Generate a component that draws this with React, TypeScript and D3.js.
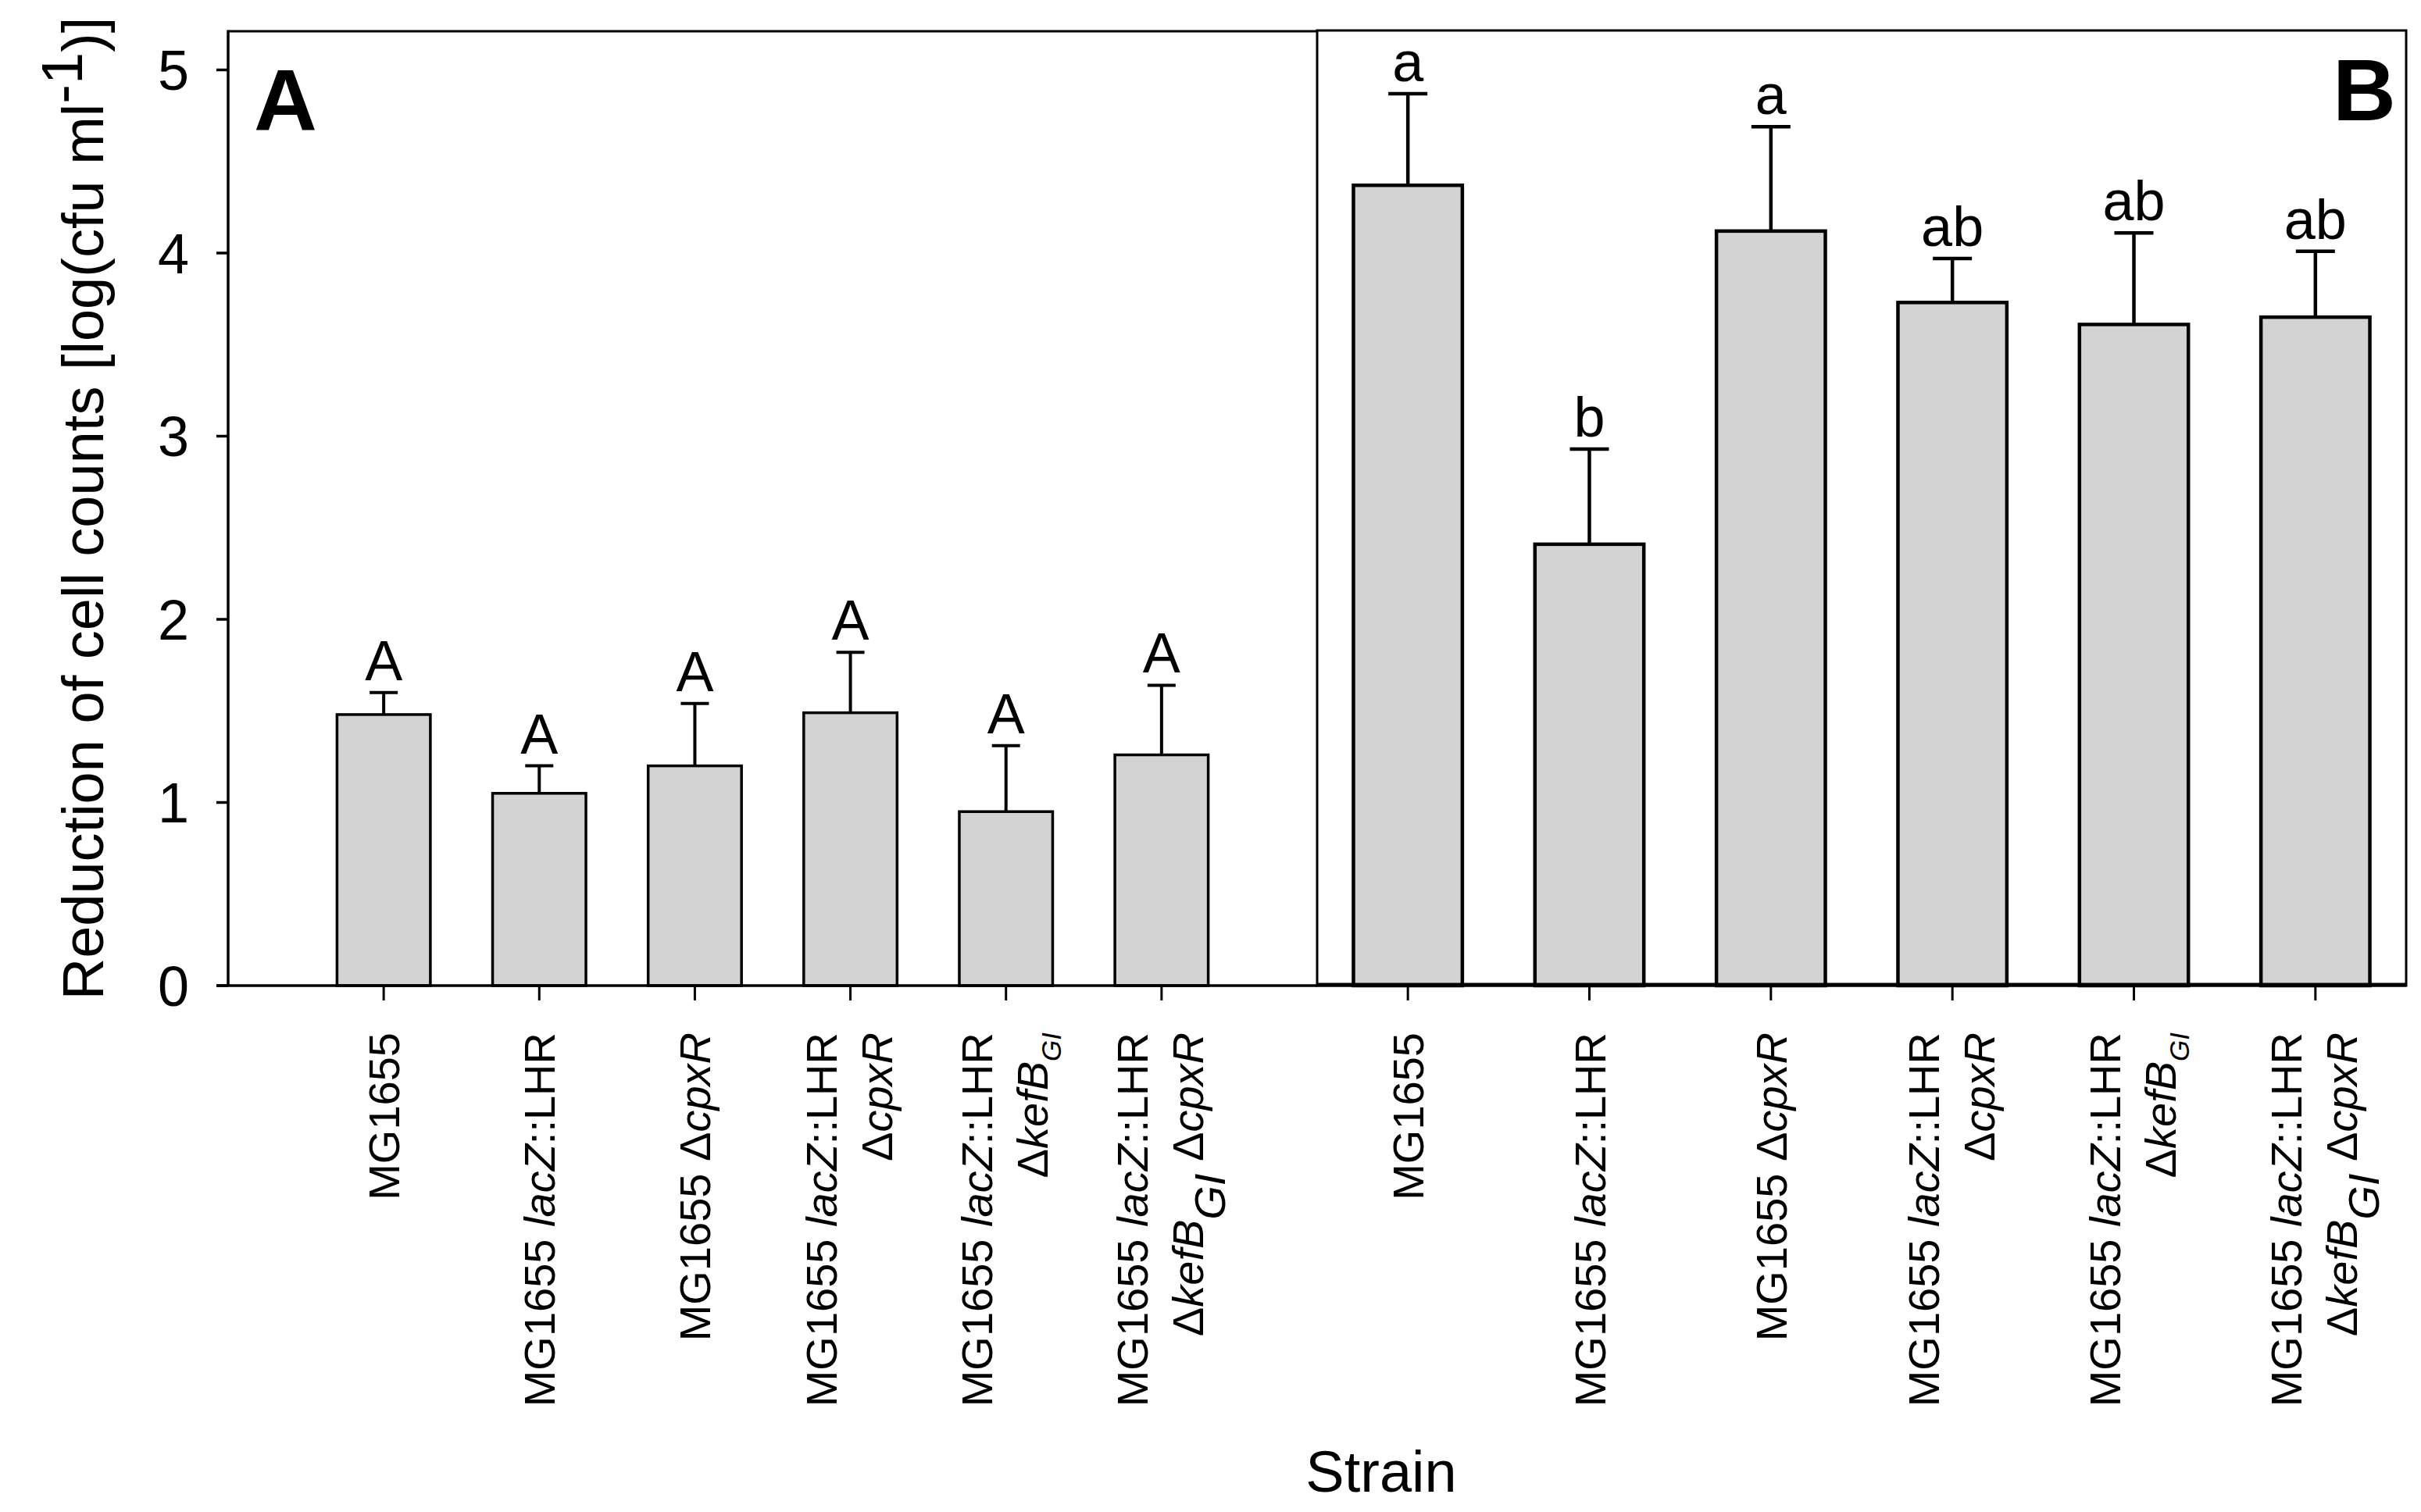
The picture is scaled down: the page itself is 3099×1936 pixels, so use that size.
import React from "react";
import * as d3 from "d3";

// ---------- data ----------
const strains = [
  "MG1655",
  "MG1655 lacZ::LHR",
  "MG1655 ΔcpxR",
  "MG1655 lacZ::LHR ΔcpxR",
  "MG1655 lacZ::LHR ΔkefBGI",
  "MG1655 lacZ::LHR ΔkefBGI ΔcpxR",
];

// label rich text: n = normal, i = italic, s = small italic subscript, S = full italic subscript
type Seg = [string, string];
const strainLabelLines: Seg[][][] = [
  [[["MG1655", "n"]]],
  [[["MG1655 ", "n"], ["lacZ", "i"], ["::LHR", "n"]]],
  [[["MG1655 Δ", "n"], ["cpxR", "i"]]],
  [[["MG1655 ", "n"], ["lacZ", "i"], ["::LHR", "n"]], [["Δ", "n"], ["cpxR", "i"]]],
  [[["MG1655 ", "n"], ["lacZ", "i"], ["::LHR", "n"]], [["Δ", "n"], ["kefB", "i"], ["GI", "s"]]],
  [
    [["MG1655 ", "n"], ["lacZ", "i"], ["::LHR", "n"]],
    [["Δ", "n"], ["kefB", "i"], ["GI", "S"], [" Δ", "n"], ["cpxR", "i"]],
  ],
];

const valuesA = [1.48, 1.05, 1.2, 1.49, 0.95, 1.26];
const errorsA = [0.12, 0.15, 0.34, 0.33, 0.36, 0.38];
const lettersA = ["A", "A", "A", "A", "A", "A"];

const valuesB = [4.37, 2.41, 4.12, 3.73, 3.61, 3.65];
const errorsB = [0.5, 0.52, 0.57, 0.24, 0.5, 0.36];
const lettersB = ["a", "b", "a", "ab", "ab", "ab"];

const yTicks = [0, 1, 2, 3, 4, 5];

// ---------- layout ----------
const W = 3099;
const H = 1936;
const FONT = "'Liberation Sans', Arial, Helvetica, sans-serif";
const axisLeft = 292;
const mid = 1686;
const right = 3080;
const top = 40;

const y = d3.scaleLinear().domain([0, 5]).range([1262, 89.5]);

const xA = d3.scalePoint<string>().domain(strains).range([axisLeft, mid]).padding(1);
const xB = d3.scalePoint<string>().domain(strains).range([mid, right]).padding(0.5);

function renderSegs(segs: Seg[]) {
  let shift = 0;
  return segs.map(([t, s], k) => {
    let target = 0;
    let fs: number | undefined = undefined;
    if (s === "s") {
      target = 17;
      fs = 35;
    } else if (s === "S") {
      target = 28;
    }
    const dy = target - shift;
    shift = target;
    return (
      <tspan key={k} dy={dy} fontStyle={s === "n" ? "normal" : "italic"} fontSize={fs}>
        {t}
      </tspan>
    );
  });
}

function XLabels({ scale }: { scale: d3.ScalePoint<string> }) {
  const lineGap = 71;
  return (
    <g fontFamily={FONT} fontSize={56} style={{ whiteSpace: "pre" }}>
      {strains.map((s, i) => {
        const cx = scale(s) as number;
        const lines = strainLabelLines[i];
        const n = lines.length;
        return lines.map((segs, k) => {
          const bx = cx + 20 - (n > 1 ? 37.5 : 0) + k * lineGap;
          return (
            <text
              key={`${i}-${k}`}
              transform={`translate(${bx},${1322}) rotate(-90)`}
              textAnchor="end"
            >
              {renderSegs(segs)}
            </text>
          );
        });
      })}
    </g>
  );
}

function Bars({
  scale,
  values,
  errors,
  letters,
  sw,
  capW,
  capSw,
}: {
  scale: d3.ScalePoint<string>;
  values: number[];
  errors: number[];
  letters: string[];
  sw: number;
  capW: number;
  capSw: number;
}) {
  const bw = scale.step() * 0.6;
  return (
    <g>
      {strains.map((s, i) => {
        const cx = scale(s) as number;
        const v = values[i];
        const e = errors[i];
        const yTop = y(v);
        const yCap = y(v + e);
        return (
          <g key={s}>
            <line x1={cx} x2={cx} y1={yTop} y2={yCap} stroke="#000" strokeWidth={capSw} />
            <line x1={cx - capW / 2} x2={cx + capW / 2} y1={yCap} y2={yCap} stroke="#000" strokeWidth={capSw} />
            <rect
              x={cx - bw / 2}
              y={yTop}
              width={bw}
              height={y(0) - yTop}
              fill="#d3d3d3"
              stroke="#000"
              strokeWidth={sw}
            />
            <text x={cx} y={yCap - 16} textAnchor="middle" fontFamily={FONT} fontSize={72}>
              {letters[i]}
            </text>
          </g>
        );
      })}
    </g>
  );
}

export default function App() {
  return (
    <svg
      width={W}
      height={H}
      viewBox={`0 0 ${W} ${H}`}
      style={{ position: "absolute", left: 0, top: 0, background: "#fff" }}
    >
      <rect x={0} y={0} width={W} height={H} fill="#fff" />

      {/* Panel A frame */}
      <line x1={axisLeft} x2={mid} y1={top} y2={top} stroke="#000" strokeWidth={3} />
      <line x1={axisLeft} x2={axisLeft} y1={top - 1.5} y2={y(0)} stroke="#000" strokeWidth={3.5} />

      {/* y ticks */}
      {yTicks.map((t) => (
        <g key={t}>
          <line x1={277} x2={axisLeft} y1={y(t)} y2={y(t)} stroke="#000" strokeWidth={3.5} />
          <text x={242} y={y(t)} dy="0.36em" textAnchor="end" fontFamily={FONT} fontSize={72}>
            {t}
          </text>
        </g>
      ))}

      {/* bars */}
      <Bars scale={xA} values={valuesA} errors={errorsA} letters={lettersA} sw={3.5} capW={36} capSw={4} />
      <Bars scale={xB} values={valuesB} errors={errorsB} letters={lettersB} sw={4.5} capW={50} capSw={4.5} />

      {/* bottom axis A */}
      <line x1={277} x2={mid} y1={y(0)} y2={y(0)} stroke="#000" strokeWidth={3.5} />
      {/* Panel B frame */}
      <rect x={mid} y={top - 1} width={right - mid} height={y(0) - top + 1} fill="none" stroke="#000" strokeWidth={3} />
      <line x1={mid} x2={right} y1={y(0) - 1} y2={y(0) - 1} stroke="#000" strokeWidth={5} />

      {/* x ticks */}
      {strains.map((s) => (
        <g key={s}>
          <line x1={xA(s)} x2={xA(s)} y1={y(0)} y2={1281} stroke="#000" strokeWidth={3} />
          <line x1={xB(s)} x2={xB(s)} y1={y(0)} y2={1281} stroke="#000" strokeWidth={3} />
        </g>
      ))}

      <XLabels scale={xA} />
      <XLabels scale={xB} />

      {/* panel letters */}
      <text x={325} y={167} fontFamily={FONT} fontWeight="bold" fontSize={112}>
        A
      </text>
      <text x={3067} y={154} textAnchor="end" fontFamily={FONT} fontWeight="bold" fontSize={112}>
        B
      </text>

      {/* axis titles */}
      <text
        transform={`translate(132,651) rotate(-90)`}
        textAnchor="middle"
        fontFamily={FONT}
        fontSize={74}
      >
        Reduction of cell counts [log(cfu ml
        <tspan dy={-27}>-1</tspan>
        <tspan dy={27}>)]</tspan>
      </text>
      <text x={1768} y={1910} textAnchor="middle" fontFamily={FONT} fontSize={74}>
        Strain
      </text>
    </svg>
  );
}
